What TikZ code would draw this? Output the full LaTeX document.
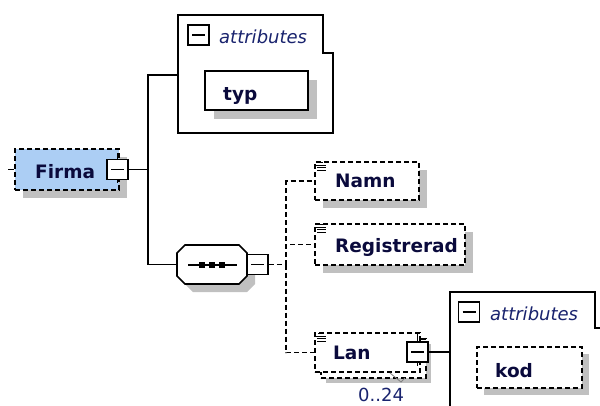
\documentclass[tikz,border=0pt]{standalone}
\usepackage{fontspec}
\setmainfont{DejaVu Sans}
\usetikzlibrary{shadows,calc}
\definecolor{fblue}{RGB}{172,206,244}
\definecolor{shd}{RGB}{192,192,192}
\definecolor{txt}{RGB}{10,10,60}
\definecolor{atxt}{RGB}{25,35,110}
\tikzset{
  conn/.style={line width=1.7pt},
  dconn/.style={line width=1.7pt, dash pattern=on 5pt off 3pt},
  shdw/.style={drop shadow={shadow xshift=#1, shadow yshift=-#1, fill=shd, opacity=1}},
  shdw/.default=8pt,
  elem/.style={rectangle, draw, line width=1.7pt, fill=white, inner sep=0pt},
  opt/.style={elem, dash pattern=on 5pt off 3pt},
  mbox/.style={rectangle, draw, line width=1.7pt, fill=white, inner sep=0pt,
    minimum width=21pt, minimum height=20pt,
    path picture={\draw[line width=1.7pt] ([xshift=4pt]path picture bounding box.west) -- ([xshift=-4pt]path picture bounding box.east);}},
  lbl/.style={font=\fontsize{18.5}{20}\selectfont\bfseries, text=txt, inner sep=0pt, anchor=base west},
  albl/.style={font=\fontsize{18}{20}\selectfont\itshape, text=atxt, inner sep=0pt, anchor=base west},
  clbl/.style={font=\fontsize{18}{20}\selectfont, text=atxt, inner sep=0pt, anchor=base west},
  docicon/.pic={\draw[line width=1pt, black] (4,1.5)--(9,1.5) (2,4)--(12,4) (3,6.5)--(12,6.5) (3,9)--(12,9);}
}
\begin{document}
\begin{tikzpicture}[x=1pt,y=-1pt]
\useasboundingbox (0,0) rectangle (600,405);
\clip (0,0) rectangle (600,405);

% attributes box 1
\draw[conn, fill=white] (178,15) -- (323,15) -- (323,53) -- (333,53) -- (333,133) -- (178,133) -- cycle;
\node[mbox] (a1min) at (198.5,35) {};
\node[albl] (a1txt) at (219,43) {attributes};
\node[elem, shdw=9pt, minimum width=103pt, minimum height=39pt] (typ) at (256.5,90.5) {};
\node[lbl] (typtxt) at (223,100) {typ};

% Firma
\coordinate (fin) at (8,169.5);
\node[opt, fill=fblue, shdw, minimum width=104pt, minimum height=41pt] (firma) at (67,169.5) {};
\draw[conn] (fin) -- (firma.west);
\node[lbl] (firmatxt) at (35,178) {Firma};
\node[mbox] (fmin) at (117.5,169.5) {};
\draw[conn] (fmin.north) -- ++(0,-6);
\draw[conn] (fmin.south) -- ++(0,3);

% trunk
\coordinate (trunk) at (148,169.5);
\coordinate (a1in) at (178,75);
\node[inner sep=0pt, minimum width=70pt, minimum height=39pt] (seq) at (212,264.5) {};
\draw[conn] (fmin.east) -- (trunk);
\draw[conn] (trunk) |- (a1in);
\draw[conn] (trunk) |- (seq.west);

% sequence octagon
\fill[shd, shift={(8,8)}] (177,253) -- (185,245) -- (239,245) -- (247,253) -- (247,276) -- (239,284) -- (185,284) -- (177,276) -- cycle;
\draw[conn, fill=white] (177,253) -- (185,245) -- (239,245) -- (247,253) -- (247,276) -- (239,284) -- (185,284) -- (177,276) -- cycle;
\draw[conn] ($(seq.center)+(-24,0.5)$) -- ($(seq.center)+(25,0.5)$);
\foreach \dx in {-10,0,10} \fill ($(seq.center)+(\dx-3,-2.5)$) rectangle ++(6,6);
\node[mbox] (seqmin) at (257.5,264.5) {};

% children
\node[opt, shdw, minimum width=104pt, minimum height=38pt] (namn) at (367,181) {};
\pic at (namn.north west) {docicon};
\node[lbl] (namntxt) at (335,187) {Namn};

\node[opt, shdw, minimum width=150pt, minimum height=41pt] (reg) at (390,244.5) {};
\pic at (reg.north west) {docicon};
\node[lbl] (regtxt) at (335,252) {Registrerad};

\node[opt, shdw=5pt, minimum width=105pt, minimum height=39pt] (lanback) at (373.5,358.5) {};
\node[opt, minimum width=105pt, minimum height=39pt] (lan) at (367.5,352.5) {};
\pic at (lan.north west) {docicon};
\node[lbl] (lantxt) at (333,359) {Lan};
\draw[line width=0.8pt, gray] (390,373) -- (401,382) -- (405,378);
\node[clbl] (card) at (358,401) {0..24};
\node[mbox] (lanmin) at (417.5,352) {};
\draw[conn] (lanmin.north) -- ++(0,-7);
\draw[conn] (lanmin.south) -- ++(0,3);

\coordinate (seqbus) at (286,264.5);
\draw[dconn] (seqmin.east) -- (seqbus);
\draw[dconn] (seqbus) |- (namn.west);
\draw[dconn] (seqbus) |- (reg.west);
\draw[dconn] (seqbus) |- (lan.west);

% attributes box 2
\coordinate (a2in) at (450,352);
\draw[conn, fill=white] (450,292) -- (595,292) -- (595,328) -- (612,328) -- (612,420) -- (450,420) -- cycle;
\draw[conn] (lanmin.east) -- (a2in);
\node[mbox] (a2min) at (469,312) {};
\node[albl] (a2txt) at (490,320) {attributes};
\node[opt, shdw=7pt, minimum width=105pt, minimum height=41pt] (kod) at (529.5,367.5) {};
\node[lbl] (kodtxt) at (495,377) {kod};
\end{tikzpicture}
\end{document}
